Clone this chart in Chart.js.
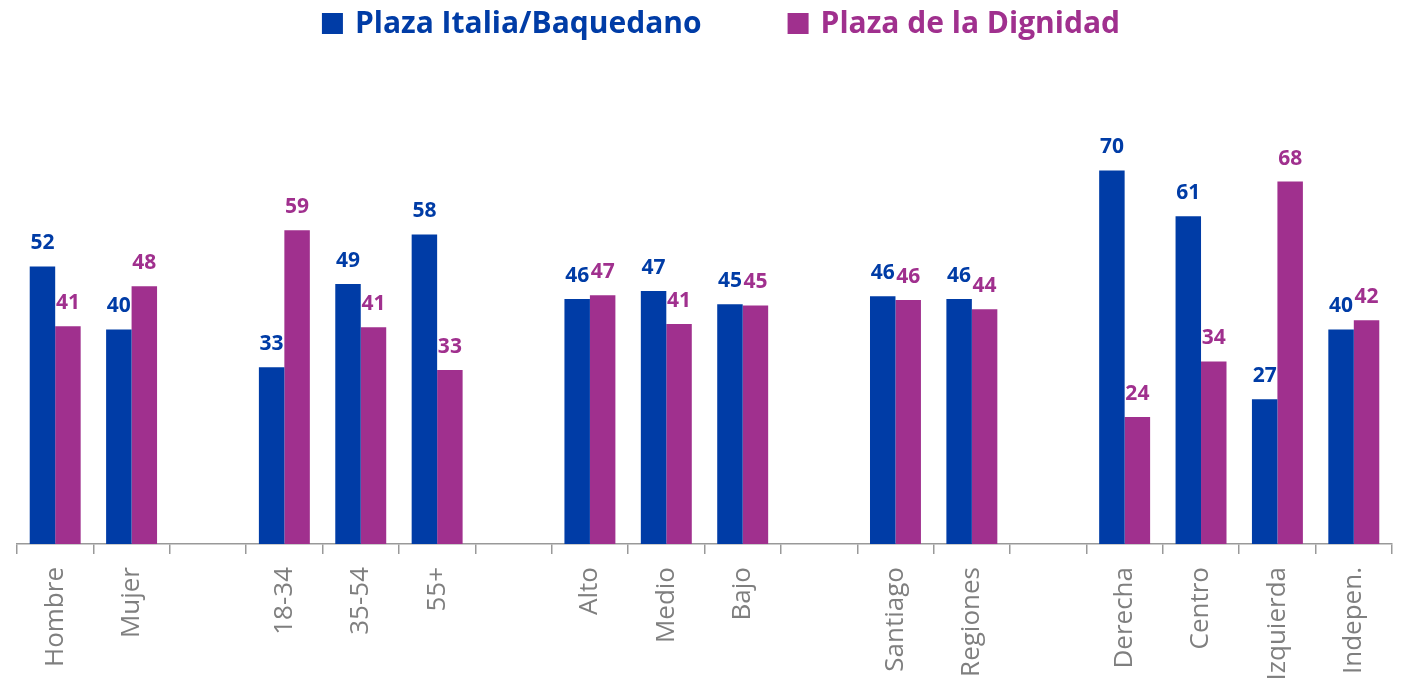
<!DOCTYPE html>
<html>
<head>
<meta charset="utf-8">
<script src="https://cdn.jsdelivr.net/npm/chart.js@4.4.1/dist/chart.umd.min.js"></script>
<style>
  html, body { margin: 0; padding: 0; background: #fff; }
  #wrap { width: 1403px; height: 683px; }
</style>
</head>
<body>
<div id="wrap"><canvas id="myChart" width="1403" height="683"></canvas></div>
<script>
// datos
const categories = ['Hombre', 'Mujer', '', '18-34', '35-54', '55+', '', 'Alto', 'Medio', 'Bajo', '', 'Santiago', 'Regiones', '', 'Derecha', 'Centro', 'Izquierda', 'Indepen.'];
const plazaItalia = [52.0, 40.2, null, 33.1, 48.7, 58.0, null, 45.9, 47.4, 44.9, null, 46.4, 45.9, null, 70.0, 61.4, 27.1, 40.2];
const plazaDignidad = [40.8, 48.3, null, 58.8, 40.6, 32.6, null, 46.6, 41.2, 44.7, null, 45.7, 44.0, null, 23.8, 34.2, 67.9, 41.9];
const seriesNames = ['Plaza Italia/Baquedano', 'Plaza de la Dignidad'];

const BLUE = '#003CA6';
const PURPLE = '#A0308E';

// etiquetas sobre las barras
const barLabels = {
  id: 'barLabels',
  afterDatasetsDraw(chart) {
    const ctx = chart.ctx;
    ctx.save();
    ctx.font = 'bold 21px "Open Sans"';
    ctx.textAlign = 'center';
    ctx.textBaseline = 'alphabetic';
    chart.data.datasets.forEach((ds, i) => {
      const meta = chart.getDatasetMeta(i);
      ctx.fillStyle = ds.backgroundColor;
      meta.data.forEach((bar, j) => {
        const v = ds.data[j];
        if (v === null) return;
        ctx.fillText(Math.round(v), bar.x, bar.y - 17);
      });
    });
    ctx.restore();
  }
};

// leyenda arriba
const topLegend = {
  id: 'topLegend',
  afterDraw(chart) {
    const ctx = chart.ctx;
    ctx.save();
    ctx.font = 'bold 30px "Open Sans"';
    ctx.textBaseline = 'alphabetic';
    const box = 21, gap = 12, itemGap = 86;
    const widths = chart.data.datasets.map(ds => box + gap + ctx.measureText(ds.label).width);
    const total = widths.reduce((a, b) => a + b, 0) + itemGap * (widths.length - 1);
    let x = 721 - total / 2;
    chart.data.datasets.forEach((ds, i) => {
      ctx.fillStyle = ds.backgroundColor;
      ctx.fillRect(x, 13, box, box);
      ctx.fillText(ds.label, x + box + gap, 33);
      x += widths[i] + itemGap;
    });
    ctx.restore();
  }
};

const ctx = document.getElementById('myChart').getContext('2d');

new Chart(ctx, {
  type: 'bar',
  data: {
    labels: categories,
    datasets: [
      { label: seriesNames[0], data: plazaItalia, backgroundColor: BLUE },
      { label: seriesNames[1], data: plazaDignidad, backgroundColor: PURPLE }
    ]
  },
  options: {
    responsive: false,
    animation: false,
    layout: { padding: { top: 117, left: 17, right: 11, bottom: 0 } },
    datasets: {
      bar: { categoryPercentage: 0.667, barPercentage: 1.0 }
    },
    plugins: {
      legend: { display: false },
      tooltip: { enabled: false }
    },
    scales: {
      x: {
        grid: {
          offset: true,
          drawOnChartArea: false,
          drawTicks: true,
          tickLength: 10,
          color: '#999999',
          lineWidth: 1.5
        },
        border: { display: true, color: '#999999', width: 1.5 },
        ticks: {
          minRotation: 90,
          maxRotation: 90,
          padding: 13,
          color: '#7F7F7F',
          font: { family: 'Open Sans', size: 26 }
        },
        afterFit(scale) { scale.height = 139; }
      },
      y: {
        display: false,
        min: 0,
        max: 80
      }
    }
  },
  plugins: [barLabels, topLegend]
});
</script>
</body>
</html>
